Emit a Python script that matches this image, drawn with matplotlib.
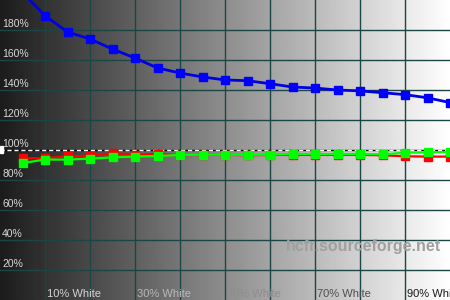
import matplotlib
matplotlib.use("Agg")
import matplotlib.pyplot as plt
import numpy as np

# Valores (% de branco -> % de referência)
niveis = [5, 10, 15, 20, 25, 30, 35, 40, 45, 50, 55, 60, 65, 70, 75, 80, 85, 90, 95, 100]
azul = [205, 189.5, 178.7, 174, 167.3, 161.3, 154.7, 151.3, 148.7, 146.7,
        146.2, 144.2, 142, 141.3, 140, 139.4, 138.2, 136.9, 134.8, 131.6]
vermelho = [94.5, 94.5, 95.8, 96.2, 97.8, 97.0, 97.3, 96.5, 96.8, 96.8,
            96.5, 96.7, 96.7, 96.7, 96.7, 96.7, 96.5, 95.8, 95.6, 95.6]
verde = [91.3, 93.6, 93.6, 94.2, 95.1, 95.6, 96.0, 96.7, 96.9, 96.9,
         96.7, 96.9, 97.3, 97.3, 97.3, 97.3, 97.1, 98.2, 98.4, 98.8]

rotulos_y = [20, 40, 60, 80, 100, 120, 140, 160, 180]
rotulos_x = [10, 30, 50, 70, 90]
cores_x = ['#d4d4d4', '#b8b8b8', '#8e8e8e', '#505050', '#1a1a1a']

fig = plt.figure(figsize=(4.5, 3), dpi=100)
ax = fig.add_axes([0, 0, 1, 1])
ax.set_xlim(0, 100)
ax.set_ylim(0, 200)
ax.axis('off')

# fundo em degradê
grad = np.linspace(0.11, 1.0, 256).reshape(1, -1)
ax.imshow(grad, cmap='gray', vmin=0, vmax=1, aspect='auto',
          extent=[0, 100, 0, 200], zorder=0)

# grade
for gx in range(10, 100, 10):
    ax.axvline(gx, color='#1c4646', lw=1, zorder=1)
for gy in range(20, 200, 20):
    if gy != 100:
        ax.axhline(gy, color='#1c4646', lw=1, zorder=1)

# linha de referência 100%
ax.axhline(100, color='black', lw=1, zorder=2)
ax.axhline(100, color='white', lw=1, ls=(0, (3, 2)), zorder=2)
ax.add_patch(plt.Rectangle((0, 98), 0.7, 4.5, color='white', zorder=6))

# marca d'água
ax.text(63.5, 33, 'hcfr.sourceforge.net', fontsize=11.5, fontweight='bold',
        family='Liberation Sans', color='#a0a0a0', ha='left', va='baseline', zorder=2)

# séries
ax.plot(niveis, vermelho, color='#ff0000', lw=1.6, marker='s', ms=5.5,
        mec='#ff0000', mfc='#ff0000', zorder=3, clip_on=False)
ax.plot(niveis, verde, color='#00ff00', lw=1.6, marker='s', ms=5.5,
        mec='#00ff00', mfc='#00ff00', zorder=4, clip_on=False)
ax.plot(niveis, azul, color='#0000e0', lw=2, marker='s', ms=5.5,
        mec='#0000ff', mfc='#0000ff', zorder=5)

# rótulos
for v in rotulos_y:
    ax.text(0.45, v + 1.8, '%d%%' % v, fontsize=7.5, family='Liberation Sans',
            color='#d8d8d8', ha='left', va='baseline', zorder=6)
for v, c in zip(rotulos_x, cores_x):
    ax.text(v + 0.45, 1.8, '%d%% White' % v, fontsize=8, family='Liberation Sans',
            color=c, ha='left', va='baseline', zorder=6)

fig.savefig('out.png', dpi=100)
